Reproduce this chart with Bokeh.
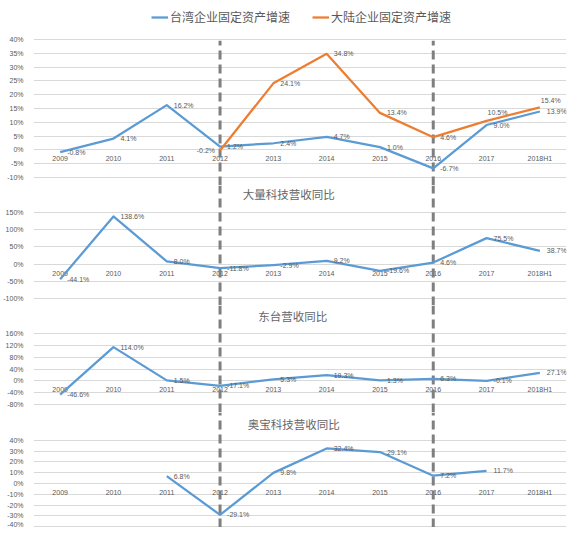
from bokeh.plotting import figure
from bokeh.layouts import column
from bokeh.models import ColumnDataSource, FixedTicker, PrintfTickFormatter
from bokeh.core.properties import value
from bokeh.embed import file_html
from bokeh.resources import INLINE

cats = ["2009", "2010", "2011", "2012", "2013", "2014", "2015", "2016", "2017", "2018H1"]
dividers = ["2012", "2016"]

tw_fixed = [-0.8, 4.1, 16.2, 1.2, 2.4, 4.7, 1.0, -6.7, 9.0, 13.9]
cn_fixed = [None, None, None, -0.2, 24.1, 34.8, 13.4, 4.6, 10.5, 15.4]
daliang = [-44.1, 138.6, 8.0, -11.8, -2.9, 9.2, -19.6, 4.6, 75.5, 38.7]
dongtai = [-46.6, 114.0, 1.5, -17.1, 5.3, 19.3, 1.3, 6.3, -0.1, 27.1]
oubao = [None, None, 6.8, -29.1, 9.8, 32.4, 29.1, 7.2, 11.7, None]

ticks1 = [-10, -5, 0, 5, 10, 15, 20, 25, 30, 35, 40]
ticks2 = [-100, -50, 0, 50, 100, 150]
ticks3 = [-80, -40, 0, 40, 80, 120, 160]
ticks4 = [-40, -30, -20, -10, 0, 10, 20, 30, 40]

BLUE = "#5b9bd5"
ORANGE = "#ed7d31"
TXT = "#595959"
CJK = "Noto Sans CJK SC"
W = 571


def panel(h, y0, y1, ticks, dash_top=None):
    p = figure(x_range=cats, y_range=(y0, y1), width=W, height=h,
               output_backend="svg", toolbar_location=None, x_axis_location=None,
               min_border_left=26, min_border_right=5, min_border_top=0, min_border_bottom=0)
    p.outline_line_color = None
    p.xgrid.visible = False
    p.yaxis.ticker = FixedTicker(ticks=ticks)
    p.ygrid.ticker = FixedTicker(ticks=ticks)
    p.ygrid.grid_line_color = "#d9d9d9"
    p.yaxis.formatter = PrintfTickFormatter(format="%d%%")
    p.yaxis.axis_line_color = None
    p.yaxis.major_tick_line_color = None
    p.yaxis.minor_tick_line_color = None
    p.yaxis.major_label_standoff = 4
    p.yaxis.major_label_text_font = "Liberation Sans"
    p.yaxis.major_label_text_font_size = "7px"
    p.yaxis.major_label_text_color = TXT
    # category labels sit just under the 0 line, like excel
    p.text(x=cats, y=[0] * len(cats), text=cats, text_align="center", text_baseline="middle",
           y_offset=9, text_font=value("Liberation Sans"), text_font_size="7px", text_color=TXT)
    top = dash_top if dash_top is not None else y1
    p.segment(x0=dividers, x1=dividers, y0=[y0] * 2, y1=[top] * 2,
              line_color="#7f7f7f", line_width=3, line_dash="9 5")
    return p


def series(p, vals, color, label=None, special=None):
    special = special or {}
    xs, ys, xo, yo, al = [], [], [], [], []
    for c, v in zip(cats, vals):
        if v is None:
            continue
        dx, dy, a = special.get(c, (7, 0, "left"))
        xs.append(c); ys.append(v); xo.append(dx); yo.append(dy); al.append(a)
    src = ColumnDataSource(dict(x=xs, y=ys, t=["%.1f%%" % v for v in ys], xo=xo, yo=yo, al=al))
    kw = {"legend_label": label} if label else {}
    p.line("x", "y", source=src, line_color=color, line_width=2.25, line_join="round", **kw)
    p.text("x", "y", text="t", source=src, x_offset="xo", y_offset="yo", text_align="al",
           text_baseline="middle", text_font=value("Liberation Sans"), text_font_size="7px",
           text_color=TXT)


def title(p, txt, dx, y):
    p.text(x=["2014"], y=[y], text=[txt], x_offset=dx, text_align="center", text_baseline="middle",
           text_font=value(CJK), text_font_size="11.5px", text_color="#666666")


p1 = panel(185, -12.9, 54.1, ticks1, dash_top=39.5)
series(p1, tw_fixed, BLUE, "台湾企业固定资产增速")
series(p1, cn_fixed, ORANGE, "大陆企业固定资产增速",
       {"2012": (-5, 0, "right"), "2017": (1, -8, "left"), "2018H1": (1, -7, "left")})
lg = p1.legend[0]
lg.orientation = "horizontal"
lg.location = (118, 160)
lg.label_text_font = CJK
lg.label_text_font_size = "12px"
lg.label_text_color = TXT
lg.label_height = 14
lg.glyph_height = 14
lg.glyph_width = 17
lg.label_standoff = 2
lg.spacing = 22
lg.padding = 0
lg.margin = 0
lg.border_line_color = None
lg.background_fill_alpha = 0

p2 = panel(120, -120.3, 228.5, ticks2)
series(p2, daliang, BLUE)
title(p2, "大量科技营收同比", -38, 228.5 - 8 * 348.8 / 120)

p3 = panel(107, -107.0, 254.6, ticks3)
series(p3, dongtai, BLUE)
title(p3, "东台营收同比", -34, 254.6 - 10 * 361.6 / 107)

p4 = panel(115, -40.8, 65.7, ticks4)
series(p4, oubao, BLUE)
title(p4, "奥宝科技营收同比", -33, 65.7 - 11 * 106.5 / 115)

p = column(p1, p2, p3, p4, spacing=0)
open("out.html", "w").write(file_html(p, INLINE))
